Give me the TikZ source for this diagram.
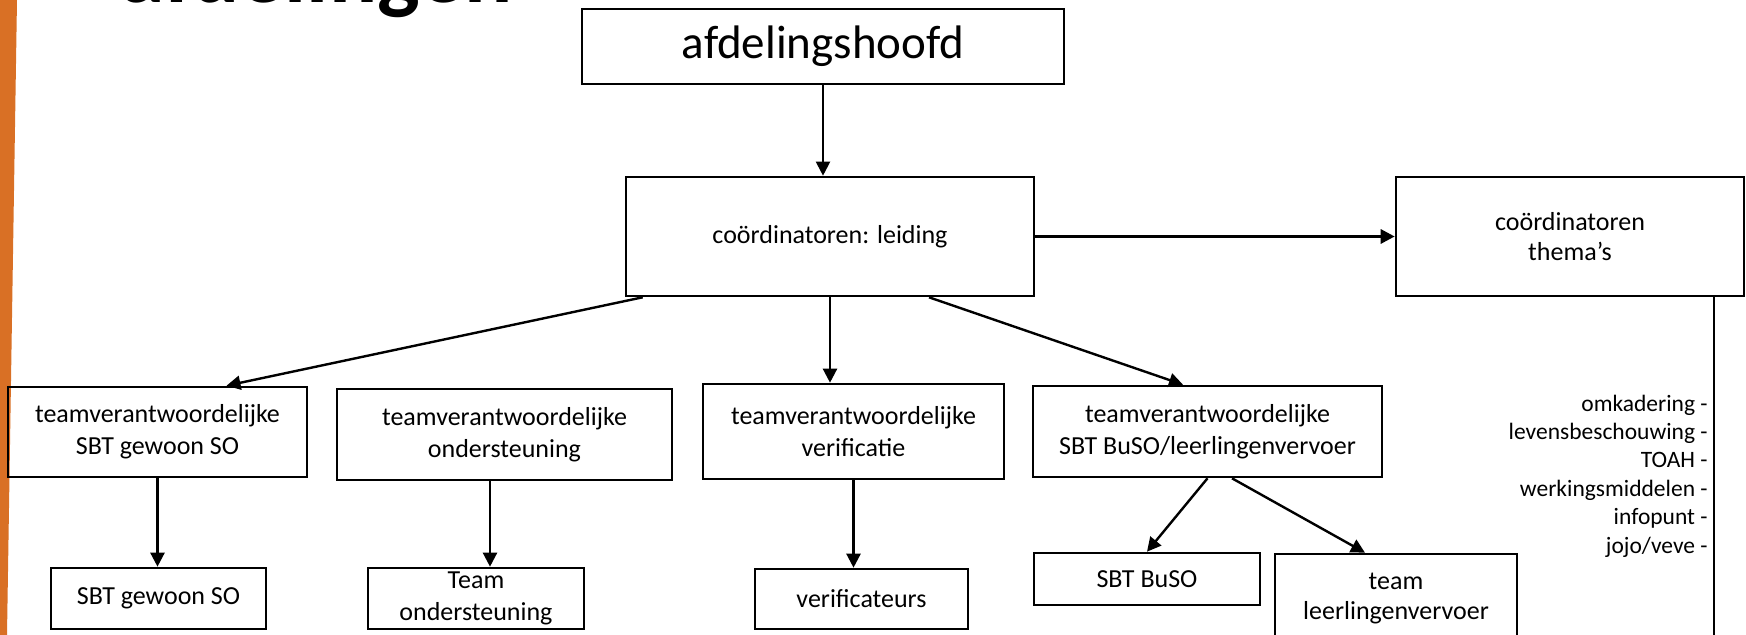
\documentclass[tikz,border=0pt]{standalone}
\usepackage{fontspec}
\setmainfont{Carlito}
\usetikzlibrary{arrows.meta}
\definecolor{barorange}{RGB}{217,112,37}
\begin{document}
\begin{tikzpicture}[x=0.5pt,y=-0.5pt,
  box/.style={draw=black,line width=1.3pt,inner sep=0pt,align=center,font=\fontsize{13}{16}\selectfont},
  arr/.style={line width=1.2pt,-{Triangle[length=7pt,width=7pt]}},
  listtext/.style={anchor=east,align=right,inner sep=0pt,font=\fontsize{11.75}{14.2}\selectfont},
]
\useasboundingbox (0,0) rectangle (1746,635);
\clip (0,0) rectangle (1746,635);
\fill[barorange] (0,0) -- (17,0) -- (7,635) -- (0,635) -- cycle;
\node[anchor=base west,font=\fontsize{45}{54}\selectfont\bfseries,inner sep=0pt] (title) at (120,3) {afdelingen};

\node[box,minimum width=241pt,minimum height=37.5pt,font=\fontsize{23.5}{28}\selectfont] (afd) at (823,46.5) {afdelingshoofd};
\node[box,minimum width=204pt,minimum height=59.5pt] (lead) at (830,236.5) {coördinatoren: leiding};
\node[box,minimum width=174pt,minimum height=59.5pt,font=\fontsize{13}{15}\selectfont] (themas) at (1570,236.5) {coördinatoren\\thema’s};
\node[box,minimum width=149.5pt,minimum height=45pt] (tv1) at (157.5,432) {teamverantwoordelijke\\SBT gewoon SO};
\node[box,minimum width=167.5pt,minimum height=45.5pt] (tv2) at (504.5,434.5) {teamverantwoordelijke\\ondersteuning};
\node[box,minimum width=150.5pt,minimum height=47.5pt] (tv3) at (853.5,431.5) {teamverantwoordelijke\\verificatie};
\node[box,minimum width=174.5pt,minimum height=45.5pt] (tv4) at (1207.5,431.5) {teamverantwoordelijke\\SBT BuSO/leerlingenvervoer};
\node[box,minimum width=107.5pt,minimum height=30.5pt] (sbt) at (158.5,598.5) {SBT gewoon SO};
\node[box,minimum width=108pt,minimum height=30.5pt] (teamond) at (476,598.5) {Team\\ondersteuning};
\node[box,minimum width=106.5pt,minimum height=30pt] (verif) at (861.5,599) {verificateurs};
\node[box,minimum width=113pt,minimum height=26pt] (sbtbuso) at (1147,579) {SBT BuSO};
\node[box,minimum width=121pt,minimum height=45pt,font=\fontsize{13}{15}\selectfont] (teamll) at (1396,599) {team\\leerlingenvervoer};

\node[listtext] (list) at (1708,476) {omkadering -\\levensbeschouwing -\\TOAH -\\werkingsmiddelen -\\infopunt -\\jojo/veve -};
\coordinate (vend) at (1714,640);
\draw[line width=0.8pt] (themas.south -| vend) -- (vend);

\draw[arr,line width=1pt] (afd.south) -- (afd.south |- lead.north);
\draw[arr,line width=1.5pt] (lead.east) -- (themas.west);
\draw[arr] ([xshift=9pt]lead.south west) -- ([xshift=34.5pt]tv1.north);
\draw[arr] (lead.south) -- (lead.south |- tv3.north);
\draw[arr] ([xshift=49.5pt]lead.south) -- ([xshift=-12.25pt]tv4.north);
\draw[arr] (tv1.south) -- (tv1.south |- sbt.north);
\draw[arr] ([xshift=-7.25pt]tv2.south) -- ([xshift=-7.25pt]tv2.south |- teamond.north);
\draw[arr] (tv3.south) -- (tv3.south |- verif.north);
\draw[arr] (tv4.south) -- (sbtbuso.north);
\draw[arr] ([xshift=12.25pt]tv4.south) -- ([xshift=-15.5pt]teamll.north);
\end{tikzpicture}
\end{document}
